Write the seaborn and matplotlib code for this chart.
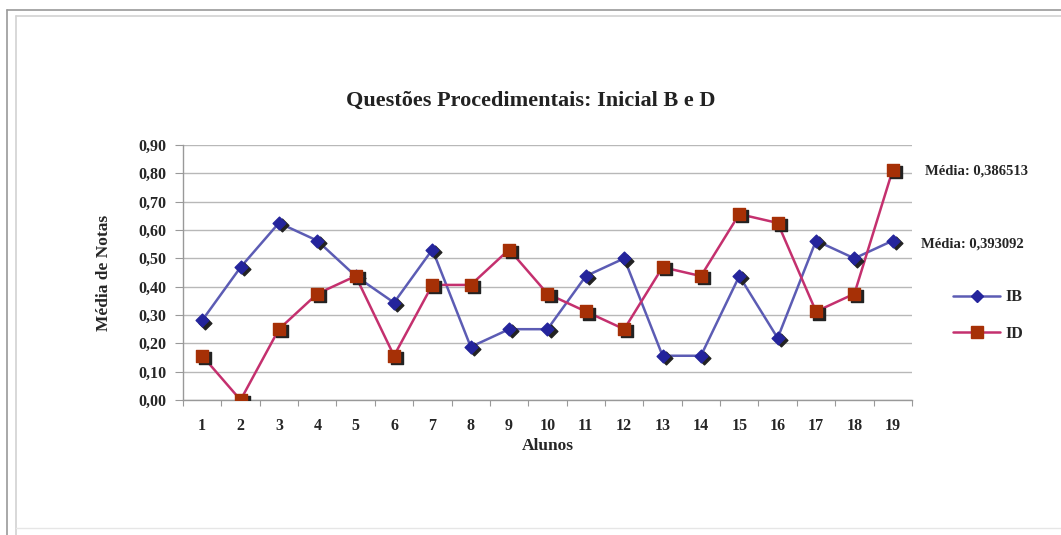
import pandas as pd
import numpy as np
import matplotlib
matplotlib.use('Agg')
import matplotlib.pyplot as plt
import seaborn as sns
from matplotlib.lines import Line2D

alunos = list(range(1, 20))
ib = [0.28125, 0.46875, 0.625, 0.5625, 0.4375, 0.34375, 0.53125, 0.1875, 0.25, 0.25,
      0.4375, 0.5, 0.15625, 0.15625, 0.4375, 0.21875, 0.5625, 0.5, 0.5625]
id_ = [0.15625, 0.0, 0.25, 0.375, 0.4375, 0.15625, 0.40625, 0.40625, 0.53125, 0.375,
       0.3125, 0.25, 0.46875, 0.4375, 0.65625, 0.625, 0.3125, 0.375, 0.8125]

df = pd.DataFrame({'Alunos': alunos * 2,
                   'Nota': ib + id_,
                   'Serie': ['IB'] * 19 + ['ID'] * 19})

sns.set_style('white')
plt.rcParams['font.family'] = ['Liberation Serif', 'DejaVu Serif']

fig = plt.figure(figsize=(10.61, 5.35), dpi=100)
ax = fig.add_axes([0.1725, 0.2523, 0.687, 0.4766])

cores = {'IB': '#5c5cb4', 'ID': '#c4306e'}
sns.lineplot(data=df, x='Alunos', y='Nota', hue='Serie', palette=cores, ax=ax,
             linewidth=1.8, legend=False)
# marcadores com sombra
ax.scatter(np.array(alunos) + 0.08, np.array(ib) - 0.008, marker='D', s=42, color='#222222', zorder=3)
ax.scatter(alunos, ib, marker='D', s=42, color='#24249c', zorder=4)
ax.scatter(np.array(alunos) + 0.08, np.array(id_) - 0.008, marker='s', s=80, color='#222222', zorder=3)
ax.scatter(alunos, id_, marker='s', s=80, color='#a63006', zorder=4)

ax.set_xlim(0.5, 19.5)
ax.set_ylim(0, 0.9)
yt = np.arange(0, 0.91, 0.1)
ax.set_yticks(yt)
ax.set_yticklabels([f'{v:.2f}'.replace('.', ',') for v in yt], fontsize=11.5, fontweight='bold')
ax.yaxis.grid(True, color='#b8b8b8', linewidth=1)
ax.set_axisbelow(True)

ax.set_xticks(np.arange(0.5, 19.6, 1))
ax.set_xticklabels([])
ax.set_xticks(alunos, minor=True)
ax.set_xticklabels([str(a) for a in alunos], minor=True, fontsize=11.5, fontweight='bold')
ax.tick_params(axis='x', which='major', direction='out', length=4, color='#999999', bottom=True)
ax.tick_params(axis='x', which='minor', length=0, pad=13)
ax.tick_params(axis='y', direction='out', length=6, color='#999999', left=True, pad=6)

for s in ['top', 'right']:
    ax.spines[s].set_visible(False)
for s in ['left', 'bottom']:
    ax.spines[s].set_color('#999999')
    ax.spines[s].set_linewidth(1)

ax.set_xlabel('Alunos', fontsize=12.5, fontweight='bold', labelpad=3)
ax.set_ylabel('Média de Notas', fontsize=12.5, fontweight='bold', labelpad=19)
fig.text(0.5, 0.812, 'Questões Procedimentais: Inicial B e D', ha='center', va='center',
         fontsize=16, fontweight='bold', color='#222222')

fig.text(0.872, 0.680, 'Média: 0,386513', fontsize=10.5, fontweight='bold', va='center')
fig.text(0.868, 0.543, 'Média: 0,393092', fontsize=10.5, fontweight='bold', va='center')

handles = [Line2D([], [], color=cores['IB'], marker='D', markerfacecolor='#24249c',
                  markeredgecolor='#24249c', markersize=6, linewidth=1.8),
           Line2D([], [], color=cores['ID'], marker='s', markerfacecolor='#a63006',
                  markeredgecolor='#a63006', markersize=8, linewidth=1.8)]
fig.legend(handles, ['IB', 'ID'], loc='center', bbox_to_anchor=(0.931, 0.41),
           frameon=False, prop={'weight': 'bold', 'size': 11.5},
           labelspacing=1.3, handlelength=3, handletextpad=0.3)

# moldura
W, H = 1061, 535
fig.add_artist(Line2D([7 / W, 7 / W], [0, 1 - 10 / H], color='#9a9a9a', linewidth=1.2))
fig.add_artist(Line2D([7 / W, 1], [1 - 10 / H, 1 - 10 / H], color='#9a9a9a', linewidth=1.2))
fig.add_artist(Line2D([16 / W, 16 / W], [0, 1 - 16 / H], color='#d2d2d2', linewidth=1.2))
fig.add_artist(Line2D([16 / W, 1], [1 - 16 / H, 1 - 16 / H], color='#d2d2d2', linewidth=1.2))
fig.add_artist(Line2D([16 / W, 1], [1 - 528 / H, 1 - 528 / H], color='#e6e6e6', linewidth=1))

plt.savefig('out.png', dpi=100)
